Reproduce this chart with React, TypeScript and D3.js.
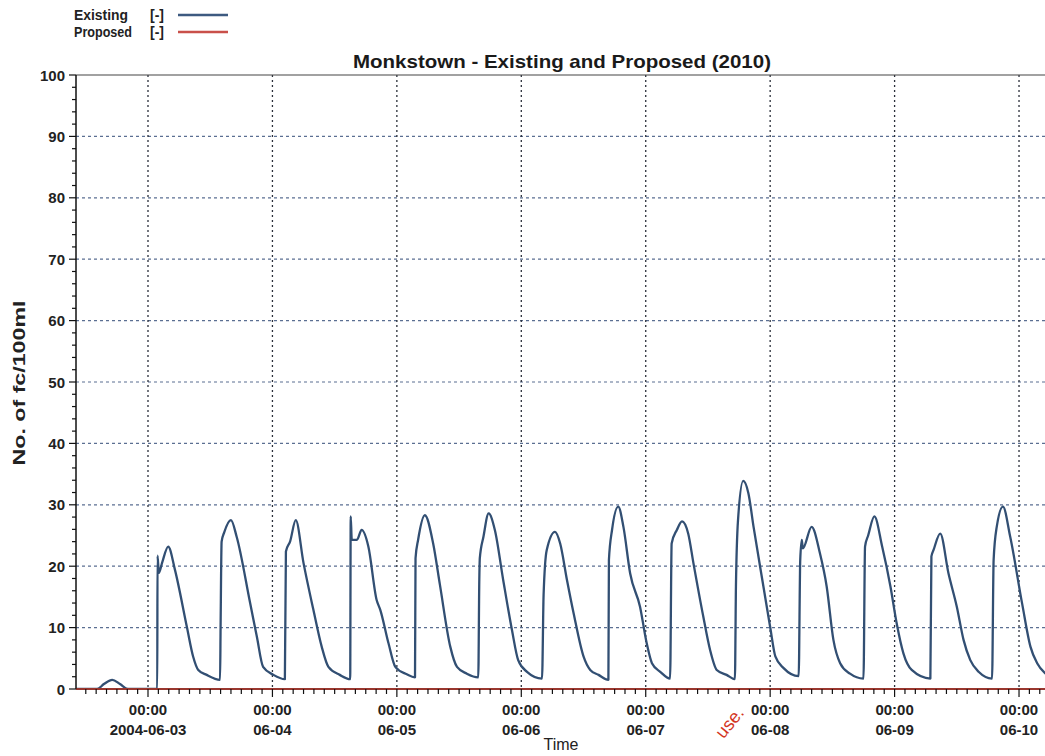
import React from "react";
import * as d3 from "d3";

// Hours since 2004-06-03 00:00 and values (No. of fc/100ml)
const existingHours = [
  -13.9, -9.8, -8.5, -6.9, -5.4, -3.9, 1.79, 1.83, 2.1, 2.7, 3.9, 5.2, 7.5, 8.7, 9.7, 11.3, 13.9,
  14.0, 14.2, 14.7, 16.0, 17.1, 19.7, 21.0, 22.2, 24.2, 26.4, 26.6, 27.4, 28.5, 30.0, 31.9, 33.5,
  34.8, 37.0, 39.0, 39.1, 39.3, 40.3, 41.2, 42.5, 44.1, 44.8, 46.4, 47.7, 49.9, 51.5, 51.6, 52.1,
  53.4, 55.0, 56.3, 58.3, 59.6, 61.5, 63.7, 63.9, 64.0, 64.7, 65.7, 66.9, 68.5, 70.2, 71.4, 73.1,
  76.0, 76.3, 76.9, 78.5, 79.5, 80.8, 82.1, 84.0, 85.3, 86.9, 88.8, 88.9, 89.5, 90.7, 91.7, 93.0,
  94.9, 96.2, 97.2, 98.8, 100.7, 101.0, 102.0, 103.0, 104.2, 105.2, 107.1, 108.4, 109.7, 111.6,
  113.2, 113.4, 113.8, 114.8, 115.8, 116.8, 118.7, 120.0, 121.0, 122.6, 125.5, 125.8, 126.1, 126.3,
  128.0, 129.6, 130.9, 132.2, 133.5, 135.4, 138.0, 138.3, 138.9, 140.1, 141.6, 143.2, 144.4, 145.7,
  147.3, 150.9, 151.1, 151.5, 152.8, 154.4, 156.0, 157.3, 158.6, 160.2, 162.8, 163.1, 163.7, 164.9,
  166.3, 168.6, 170.2, 171.5, 173.1,
];
const existingValues = [
  0, 0, 0.8, 1.5, 0.8, 0, 0, 21.7, 18.9, 20.5, 23.2, 19.4, 10.1, 5.3, 3.1, 2.3, 1.5,
  10, 24, 25.5, 27.5, 24.8, 14, 8.5, 3.6, 2.3, 1.6, 22.4, 24, 27.5, 20.5, 12.9, 6.9,
  3.6, 2.3, 1.6, 28.1, 24.3, 24.3, 25.9, 23.2, 14.5, 12.9, 7.4, 3.6, 2.4, 1.9, 21.3, 24.3,
  28.3, 23.7, 17, 6.9, 3.6, 2.5, 1.9, 17.8, 21.3, 24.8, 28.6, 25.9, 17.8, 9.6, 4.7, 2.8,
  1.7, 15.3, 22.6, 25.6, 23.7, 17.8, 12.3, 5.3, 3.1, 2.3, 1.5, 21, 25.9, 29.7, 26.4, 18.8,
  13.4, 7.4, 4.2, 2.8, 1.7, 23.7, 25.9, 27.3, 25.3, 20.5, 11.8, 6.4, 3.1, 2.3,
  1.6, 16.7, 27.5, 33.9, 31.9, 26.4, 16.7, 10.1, 5.3, 3.4, 2.1, 21, 24.3, 22.9,
  26.4, 22.1, 16.7, 8, 4.2, 2.5, 1.7, 23.2, 25, 28.1, 23.2, 16.7, 10.7, 5.8,
  3.1, 1.7, 21.6, 22.6, 25.3, 18.8, 13.4, 8, 4.7, 2.8, 1.7, 21, 26.4, 29.7,
  24.8, 13.9, 6.9, 4.2, 2.5,
];
const proposedHours = [-13.9, 173.1];
const proposedValues = [0, 0];

const yTicks = [0, 10, 20, 30, 40, 50, 60, 70, 80, 90, 100];
const dayLabels = ["2004-06-03", "06-04", "06-05", "06-06", "06-07", "06-08", "06-09", "06-10"];

const BASE = Date.UTC(2004, 5, 3, 0, 0);
const toDate = (h: number) => new Date(BASE + h * 3600e3);

const W = 1045, H = 756;
const L = 76, R = 1045, T = 75, B = 689;
const FONT = "'Liberation Sans', Arial, sans-serif";

export default function App() {
  const x = d3.scaleUtc().domain([toDate(-13.887), toDate(173.01)]).range([L, R]);
  const y = d3.scaleLinear().domain([0, 100]).range([B, T]);
  const existing = existingHours.map((h, i) => ({ t: toDate(h), v: existingValues[i] }));
  const proposed = proposedHours.map((h, i) => ({ t: toDate(h), v: proposedValues[i] }));
  const line = d3
    .line<{ t: Date; v: number }>()
    .x((d) => x(d.t))
    .y((d) => y(d.v))
    .curve(d3.curveMonotoneX);
  const days = d3.utcDay.range(toDate(0), toDate(174));
  const minorX = d3.utcHour.every(2)!.range(x.domain()[0], x.domain()[1]);
  const minorY = d3.range(0, 101, 2);

  return (
    <svg width={W} height={H} style={{ position: "absolute", left: 0, top: 0, background: "#fff" }} fontFamily={FONT}>
      <defs>
        <clipPath id="plot">
          <rect x={L} y={T - 5} width={R - L} height={B - T + 6} />
        </clipPath>
      </defs>
      {/* Legend */}
      <g fontSize={14} fontWeight="bold" fill="#222">
        <text x={74} y={20} textLength={54} lengthAdjust="spacingAndGlyphs">Existing</text>
        <text x={150} y={20}>[-]</text>
        <text x={74} y={37} textLength={58} lengthAdjust="spacingAndGlyphs">Proposed</text>
        <text x={150} y={37}>[-]</text>
      </g>
      <line x1={178} x2={228} y1={15} y2={15} stroke="#3d5a80" strokeWidth={2.5} />
      <line x1={178} x2={228} y1={32} y2={32} stroke="#c9504a" strokeWidth={2.5} />
      {/* Title */}
      <text x={353} y={68} fontSize={19} fontWeight="bold" fill="#1a1a1a" textLength={418} lengthAdjust="spacingAndGlyphs">
        Monkstown - Existing and Proposed (2010)
      </text>
      {/* Horizontal grid */}
      {yTicks.filter((v) => v > 0 && v < 100).map((v) => (
        <line key={"hg" + v} x1={L} x2={R} y1={y(v)} y2={y(v)} stroke="#5b6f92" strokeWidth={1.2} strokeDasharray="3,3" />
      ))}
      {/* Vertical grid */}
      {days.map((d, i) => (
        <line key={"vg" + i} x1={x(d)} x2={x(d)} y1={T} y2={B} stroke="#2a2f3a" strokeWidth={1.3} strokeDasharray="2,3" />
      ))}
      {/* Top border */}
      <line x1={L} x2={R} y1={T} y2={T} stroke="#444" strokeWidth={1.2} />
      {/* Series */}
      <g clipPath="url(#plot)">
        <path d={line(existing) || ""} fill="none" stroke="#324f73" strokeWidth={2.3} strokeLinejoin="round" />
        <path d={line(proposed) || ""} fill="none" stroke="#b8443c" strokeWidth={2} />
      </g>
      {/* Axes */}
      <line x1={L} x2={L} y1={T} y2={B} stroke="#111" strokeWidth={1.5} />
      <line x1={L} x2={R} y1={B} y2={B} stroke="#7a2a22" strokeWidth={1.2} />
      {minorY.map((v) => (
        <line key={"my" + v} x1={v % 10 === 0 ? L - 7 : L - 4} x2={L} y1={y(v)} y2={y(v)} stroke="#111" strokeWidth={1.2} />
      ))}
      {minorX.map((d, i) => (
        <line key={"mx" + i} x1={x(d)} x2={x(d)} y1={B} y2={B + (d.getUTCHours() === 0 ? 8 : 5)} stroke="#111" strokeWidth={1.2} />
      ))}
      <g fontSize={15} fontWeight="bold" fill="#222" textAnchor="end">
        {yTicks.map((v) => (
          <text key={"yl" + v} x={L - 11} y={y(v) + 5.5}>{v}</text>
        ))}
      </g>
      <g fontSize={15} fontWeight="bold" fill="#222" textAnchor="middle">
        {days.map((d, i) => (
          <g key={"xl" + i}>
            <text x={x(d)} y={715}>00:00</text>
            <text x={x(d)} y={735}>{dayLabels[i]}</text>
          </g>
        ))}
      </g>
      <text x={561} y={750} textAnchor="middle" fontSize={16} fill="#222">Time</text>
      <text transform="translate(25,383) rotate(-90)" textAnchor="middle" fontSize={17} fontWeight="bold" fill="#222" textLength={165} lengthAdjust="spacingAndGlyphs">
        No. of fc/100ml
      </text>
      <text transform="translate(745,713) rotate(-51)" textAnchor="end" fontSize={18} fill="#d3361f">use.</text>
    </svg>
  );
}
